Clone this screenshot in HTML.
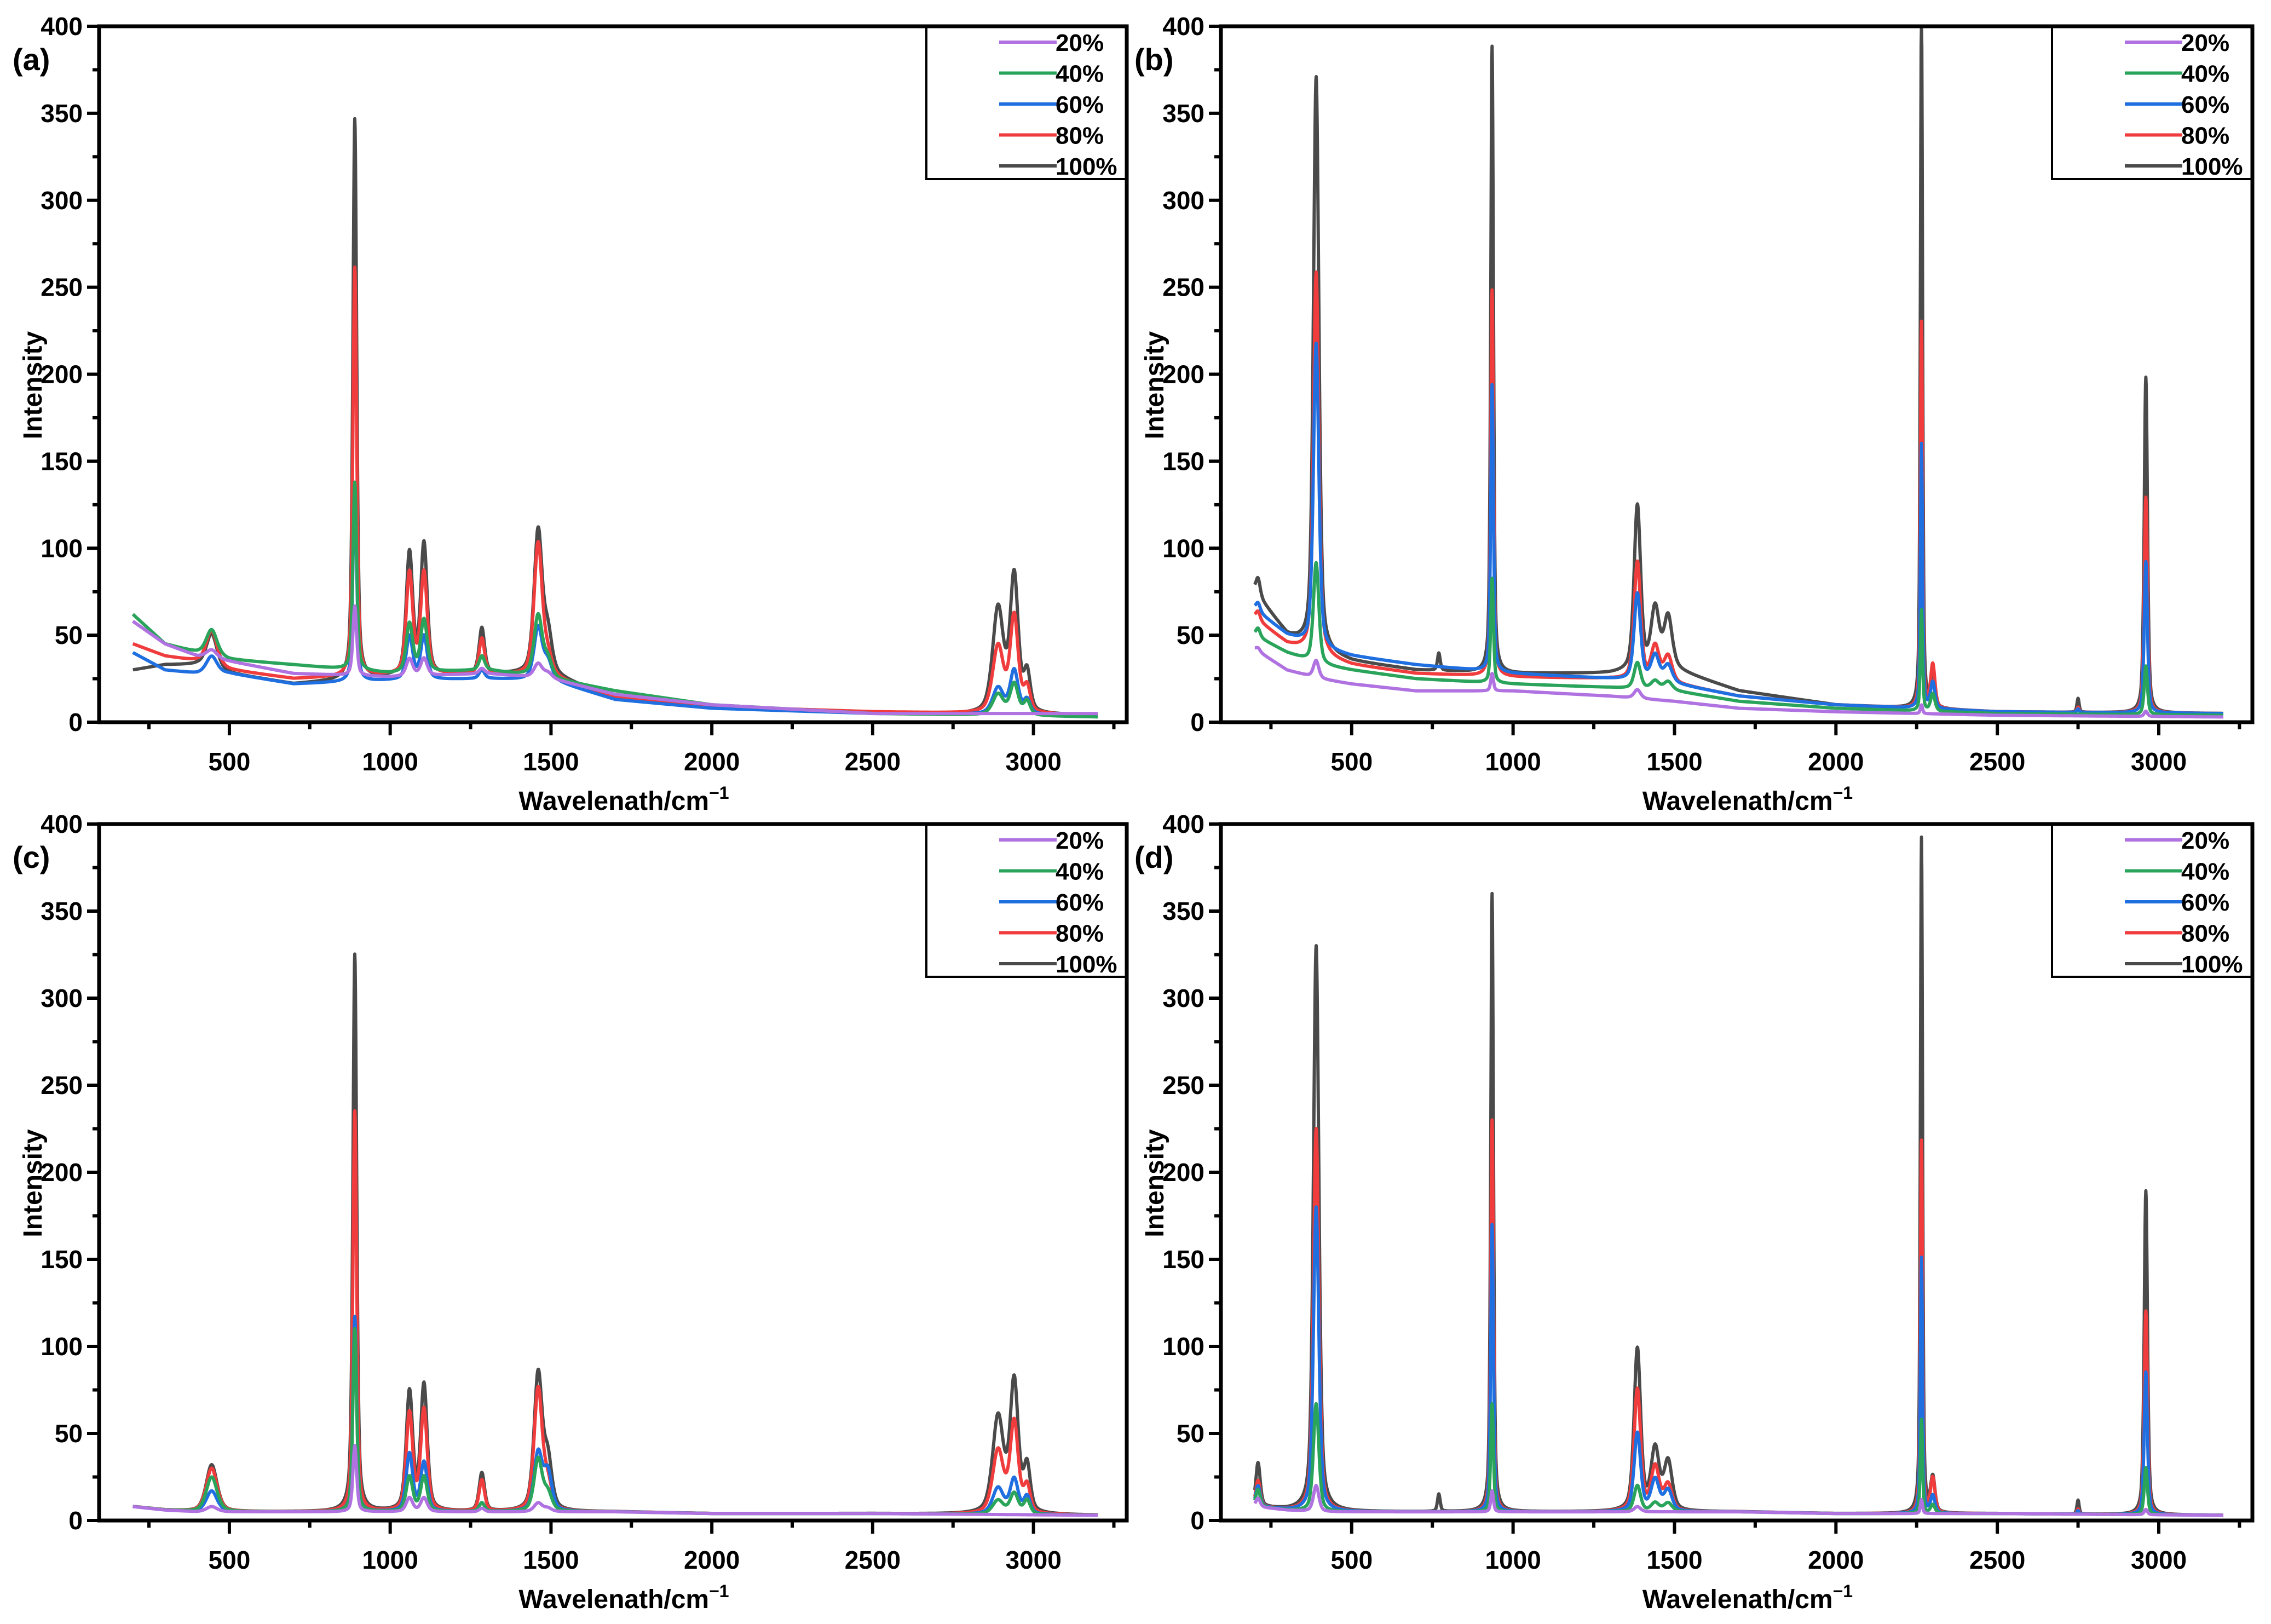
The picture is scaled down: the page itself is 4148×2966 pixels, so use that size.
<!DOCTYPE html>
<html><head><meta charset="utf-8"><style>
html,body{margin:0;padding:0;background:#fff;}
svg text{font-family:"Liberation Sans",Arial,sans-serif;font-weight:bold;fill:#000;}
</style></head><body>
<svg id="fig" xmlns="http://www.w3.org/2000/svg" width="4148" height="2961" viewBox="0 0 4148 2961"></svg>
<script>
// ---- data ----
const seriesNames = ["100%","80%","60%","40%","20%"];
const seriesColors = ["#4a4a4a","#f03c3c","#1f6fe0","#2aa45a","#b072e0"];
const legendOrder = [4,3,2,1,0];
const baseGrid = [200,300,400,500,700,1000,1300,1500,1700,2000,2500,3200];
const xTicks = [500,1000,1500,2000,2500,3000];
const yTicks = [0,50,100,150,200,250,300,350,400];

// panel a
const peaksA = [445,890,1060,1105,1285,1460,1490,2890,2940,2980];
const widthsA = [20,7,12,12,10,15,15,20,15,12];
const heightsA100 = [20,322,70,75,26,82,22,60,78,22];
const heightsA80 = [20,235,58,58,20,76,10,38,55,14];
const heightsA60 = [10,112,25,25,5,30,10,15,25,8];
const heightsA40 = [15,108,28,30,8,35,10,12,18,8];
const heightsA20 = [5,40,10,10,3,8,3,0,0,0];
const baseA100 = [30,33,33,28,22,26,28,27,14,9,5,4];
const baseA80 = [45,38,35,30,25,27,28,26,14,9,6,4];
const baseA60 = [40,30,28,28,22,24,25,24,13,8,5,4];
const baseA40 = [62,45,40,36,33,28,30,25,18,10,5,3];
const baseA20 = [58,45,38,35,28,26,28,25,16,10,5,5];

// panel c
const heightsC100 = [27,320,68,72,22,78,28,55,75,26];
const heightsC80 = [25,230,56,58,18,70,15,36,52,15];
const heightsC60 = [12,112,33,28,5,33,22,15,20,10];
const heightsC40 = [20,105,20,20,5,30,10,8,12,8];
const heightsC20 = [3,38,8,8,2,5,2,0,0,0];
const baseFlat = [8,6,5,5,5,5,5,5,5,4,4,3];

// panel b
const peaksB = [210,390,770,935,1385,1440,1480,2265,2300,2750,2960];
const widthsB = [8,10,5,5,12,15,15,4,8,4,6];
const heightsB100 = [10,330,10,360,95,35,30,400,20,8,193];
const heightsB80 = [5,220,0,222,68,20,15,222,25,3,124];
const heightsB60 = [5,175,0,165,50,15,10,152,15,2,87];
const heightsB40 = [5,58,0,60,15,5,5,58,10,0,28];
const heightsB20 = [2,10,0,10,5,0,0,5,0,0,3];
const baseB100 = [75,50,40,35,30,28,28,30,18,10,6,5];
const baseB80 = [60,45,38,33,28,26,25,22,15,10,6,5];
const baseB60 = [65,50,42,38,33,28,25,22,15,10,6,5];
const baseB40 = [50,40,33,30,25,22,20,18,12,8,5,4];
const baseB20 = [42,30,25,22,18,18,15,12,8,6,4,3];

// panel d
const heightsD100 = [25,325,10,355,93,35,28,388,20,8,186];
const heightsD80 = [15,220,0,225,70,25,15,214,20,3,117];
const heightsD60 = [12,175,0,165,45,18,12,147,10,2,82];
const heightsD40 = [10,62,0,62,15,5,5,54,5,0,27];
const heightsD20 = [5,15,0,12,3,0,0,8,0,0,3];

const panels = [
 {id:"a",L:181,R:2058,T:48,B:1319,peaks:peaksA,widths:widthsA,h:[heightsA100,heightsA80,heightsA60,heightsA40,heightsA20],b:[baseA100,baseA80,baseA60,baseA40,baseA20]},
 {id:"b",L:2230,R:4114,T:48,B:1319,peaks:peaksB,widths:widthsB,h:[heightsB100,heightsB80,heightsB60,heightsB40,heightsB20],b:[baseB100,baseB80,baseB60,baseB40,baseB20]},
 {id:"c",L:181,R:2058,T:1505,B:2777,peaks:peaksA,widths:widthsA,h:[heightsC100,heightsC80,heightsC60,heightsC40,heightsC20],b:[baseFlat,baseFlat,baseFlat,baseFlat,baseFlat]},
 {id:"d",L:2230,R:4114,T:1505,B:2777,peaks:peaksB,widths:widthsB,h:[heightsD100,heightsD80,heightsD60,heightsD40,heightsD20],b:[baseFlat,baseFlat,baseFlat,baseFlat,baseFlat]}
];
const XMIN=95, XMAX=3290, YMIN=0, YMAX=400;
const NS="http://www.w3.org/2000/svg";
const svg=document.getElementById("fig");
function mk(tag,attrs,parent){const e=document.createElementNS(NS,tag);for(const k in attrs)e.setAttribute(k,attrs[k]);(parent||svg).appendChild(e);return e;}
function interp(xs,ys,x){if(x<=xs[0])return ys[0];for(let i=1;i<xs.length;i++){if(x<=xs[i]){const t=(x-xs[i-1])/(xs[i]-xs[i-1]);return ys[i-1]+t*(ys[i]-ys[i-1]);}}return ys[ys.length-1];}

panels.forEach(p=>{
 const sx=v=>p.L+(v-XMIN)/(XMAX-XMIN)*(p.R-p.L);
 const sy=v=>p.B-(v-YMIN)/(YMAX-YMIN)*(p.B-p.T);
 const g=mk("g",{});
 
 
 for(let s=0;s<5;s++){
  let d="";
  for(let x=200;x<=3200;x+=1){
   let v=interp(baseGrid,p.b[s],x);
   for(let k=0;k<p.peaks.length;k++){const w=p.widths[k];const dx=x-p.peaks[k];
     const lor=w*w/(dx*dx+w*w);const gau=Math.exp(-0.693*dx*dx/(w*w));
     v+=p.h[s][k]*(0.5*lor+0.5*gau);}
   v=Math.min(v,YMAX);
   d+=(x===200?"M":"L")+sx(x).toFixed(1)+","+sy(v).toFixed(1);
  }
  const path=mk("path",{d:d,fill:"none",stroke:seriesColors[s],"stroke-width":6,"stroke-linejoin":"round"},g);
  
  
 }
 const fr=mk("rect",{x:p.L,y:p.T,width:p.R-p.L,height:p.B-p.T,fill:"none",stroke:"#000","stroke-width":7},g);
 
 
 for(let v=0;v<=400;v+=25){
  const major=v%50===0;
  mk("line",{x1:p.L,x2:p.L-(major?22:12),y1:sy(v),y2:sy(v),stroke:"#000","stroke-width":6},g);
 }
 yTicks.forEach(v=>{
  const t=mk("text",{x:p.L-30,y:sy(v)+16,"text-anchor":"end","font-size":46},g);
  t.textContent=v;
  
  
 });
 for(let v=250;v<=3250;v+=250){
  const major=v%500===0;
  mk("line",{x1:sx(v),x2:sx(v),y1:p.B,y2:p.B+(major?24:13),stroke:"#000","stroke-width":6},g);
 }
 xTicks.forEach(v=>{
  const t=mk("text",{x:sx(v),y:p.B+88,"text-anchor":"middle","font-size":46},g);
  t.textContent=v;
  
  
 });
 const xt=mk("text",{x:(p.L+p.R)/2+20,y:p.B+160,"text-anchor":"middle","font-size":48},g);
 xt.innerHTML='Wavelenath/cm<tspan font-size="32" dy="-20">−1</tspan>';
 
 
 const yx=p.L-105, yy=(p.T+p.B)/2+20;
 const yt=mk("text",{x:yx,y:yy,"text-anchor":"middle","font-size":48,transform:"rotate(-90 "+yx+" "+yy+")"},g);
 yt.textContent="Intensity";
 
 
 const pl=mk("text",{x:p.L-158,y:p.T+80,"font-size":56},g);
 pl.textContent="("+p.id+")";
 
 
 const lx=p.R-366, lg=mk("g",{},g);
 
 
 mk("rect",{x:lx,y:p.T,width:366,height:279,fill:"#fff",stroke:"#000","stroke-width":4},lg);
 legendOrder.forEach((s,i)=>{
  const cy=p.T+29+i*56.5;
  const e=mk("g",{},lg);
  
  
  mk("line",{x1:lx+133,x2:lx+238,y1:cy,y2:cy,stroke:seriesColors[s],"stroke-width":6},e);
  const t=mk("text",{x:lx+236,y:cy+16,"font-size":44},e);
  t.textContent=seriesNames[s];
 });
 mk("line",{x1:p.L,x2:p.R,y1:p.T,y2:p.T,stroke:"#000","stroke-width":7},g);
 mk("line",{x1:p.R,x2:p.R,y1:p.T,y2:p.B,stroke:"#000","stroke-width":7},g);
});
</script>
</body></html>
